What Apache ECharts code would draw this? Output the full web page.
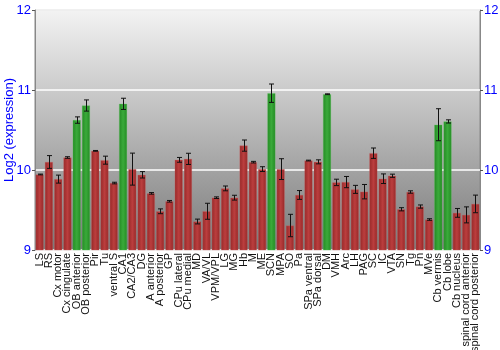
<!DOCTYPE html>
<html><head><meta charset="utf-8">
<script src="https://cdn.jsdelivr.net/npm/echarts@6/dist/echarts.min.js"></script>
<style>html,body{margin:0;padding:0;background:#fff}#c{width:500px;height:350px}</style>
</head><body><div id="c"></div>
<script>
var categories = ["LS","RS","Cx motor","Cx cingulate","OB anterior","OB posterior","Pir","Tu","ventral S","CA1","CA2/CA3","DG","A anterior","A posterior","GP","CPu lateral","CPu medial","MD","VA/VL","VPM/VPL","LG","MG","Hb","M","ME","SCN","MPA","SO","Pa","SPa ventral","SPa dorsal","DM","VMH","Arc","LH","PAG","SC","IC","VTA","SN","Tg","Pn","MVe","Cb vermis","Cb lobe","Cb nucleus","spinal cord anterior","spinal cord posterior"];
var values = [9.944,10.10,9.886,10.156,10.624,10.806,10.239,10.123,9.837,10.827,10.011,9.94,9.708,9.484,9.609,10.127,10.139,9.356,9.484,9.654,9.770,9.654,10.305,10.098,10.011,10.960,10.011,9.306,9.688,10.118,10.102,10.947,9.845,9.849,9.758,9.729,10.210,9.891,9.928,9.509,9.725,9.543,9.381,10.566,10.607,9.464,9.439,9.576];
var errors = [0.005,0.08,0.05,0.01,0.04,0.07,0.005,0.05,0.01,0.07,0.2,0.04,0.01,0.03,0.01,0.03,0.07,0.03,0.1,0.01,0.03,0.03,0.07,0.01,0.03,0.115,0.13,0.14,0.055,0.005,0.025,0.005,0.04,0.07,0.05,0.09,0.065,0.06,0.02,0.02,0.015,0.02,0.01,0.2,0.02,0.055,0.1,0.11];
var highlighted = ["OB anterior","OB posterior","CA1","SCN","DM","Cb vermis","Cb lobe"];
var yTicks = [9,10,11,12];

function grad(c1,c2){return {type:'linear',x:0,y:0,x2:1,y2:0,colorStops:[{offset:0,color:c1},{offset:0.5,color:c2},{offset:1,color:c1}]};}
var redFill = grad('#962828','#bb3e3e');
var greenFill = grad('#248a24','#3aaa3a');

var chart = echarts.init(document.getElementById('c'), null, {renderer:'canvas'});
var axisLabelStyle = {color:'#0000ff', fontSize:13, fontFamily:'Liberation Sans, Arial, sans-serif', formatter:function(v){return yTicks.indexOf(v)>=0?String(v):'';}};
chart.setOption({
  animation:false,
  grid:{left:35,right:20,top:10,bottom:100,show:true,borderColor:'#888',borderWidth:1,outerBoundsMode:'none',containLabel:false,
    backgroundColor:{type:'linear',x:0,y:0,x2:0,y2:1,colorStops:[{offset:0,color:'#f3f3f3'},{offset:1,color:'#7a7a7a'}]}},
  xAxis:{type:'category',data:categories,
    axisLine:{show:false},axisTick:{show:false},
    axisLabel:{rotate:90,interval:0,fontSize:11,color:'#111',fontFamily:'Liberation Sans, Arial, sans-serif',margin:3}},
  yAxis:[
    {type:'value',min:9,max:12,interval:1,position:'left',
     name:'Log2 (expression)',nameLocation:'middle',nameGap:19,nameMoveOverlap:false,nameTextStyle:{color:'#0000ff',fontSize:13,fontFamily:'Liberation Sans, Arial, sans-serif'},
     axisLine:{show:true,lineStyle:{color:'#888'}},axisTick:{show:true,length:3,lineStyle:{color:'#555'}},
     axisLabel:Object.assign({margin:4},axisLabelStyle),
     splitLine:{show:true,lineStyle:{color:'#ffffff',width:1.5}}},
    {type:'value',min:9,max:12,interval:1,position:'right',
     axisLine:{show:true,lineStyle:{color:'#888'}},axisTick:{show:true,length:3,lineStyle:{color:'#555'}},
     axisLabel:Object.assign({margin:4},axisLabelStyle),
     splitLine:{show:false}}
  ],
  series:[
    {type:'bar',data:values.map(function(v,i){
        var g = highlighted.indexOf(categories[i])>=0;
        return {value:v,itemStyle:{color:g?greenFill:redFill,borderColor:g?'rgba(90,200,90,0.6)':'rgba(210,100,100,0.6)',borderWidth:0.5}};
      }),
     barCategoryGap:'14%'},
    {type:'custom',data:values.map(function(v,i){return [i,v-errors[i],v+errors[i]];}),
     z:10,
     renderItem:function(params,api){
       var lo = api.coord([api.value(0),api.value(1)]);
       var hi = api.coord([api.value(0),api.value(2)]);
       var x = Math.round(lo[0])+0.5, w=2.5;
       var st = {stroke:'#111',lineWidth:1};
       return {type:'group',children:[
         {type:'line',shape:{x1:x,y1:hi[1],x2:x,y2:lo[1]},style:st},
         {type:'line',shape:{x1:x-w,y1:hi[1],x2:x+w,y2:hi[1]},style:st},
         {type:'line',shape:{x1:x-w,y1:lo[1],x2:x+w,y2:lo[1]},style:st}
       ]};
     }}
  ]
});
</script></body></html>
